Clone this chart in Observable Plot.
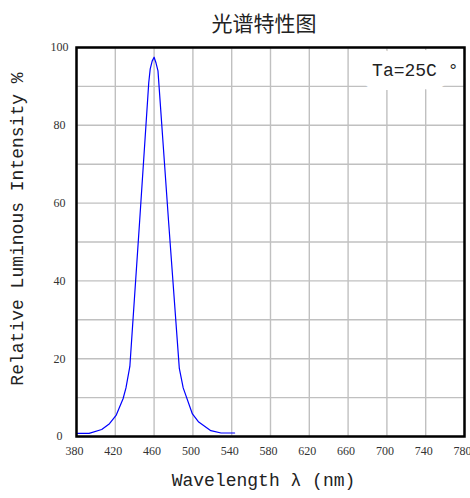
<!DOCTYPE html>
<html><head><meta charset="utf-8">
<script src="https://cdn.jsdelivr.net/npm/d3@7"></script>
<script src="https://cdn.jsdelivr.net/npm/@observablehq/plot@0.6"></script>
<style>
body{margin:0;background:#fff;width:470px;overflow:hidden;}
#title{width:470px;height:40px;box-sizing:border-box;padding-left:58px;text-align:center;font-family:"Noto Sans CJK SC";font-size:21px;line-height:44px;color:#222;}
</style>
</head><body>
<div id="title">光谱特性图</div>
<div id="chart"></div>
<script>
const wavelength = [380, 393, 406, 414, 421, 428, 431, 435, 445, 454.5, 456, 458, 460, 462, 464, 475, 486, 490, 499.5, 506, 518.5, 529, 543];
const intensity  = [0.8, 0.8, 1.8, 3.3, 5.5, 9.7, 12.5, 18, 55, 91, 94.5, 96.5, 97.5, 96, 94, 55, 17.5, 12.5, 5.8, 3.7, 1.5, 0.9, 0.9];
const xTicks = [380, 420, 460, 500, 540, 580, 620, 660, 700, 740, 780];
const yTicks = [0, 20, 40, 60, 80, 100];
const yGrid = [0, 10, 20, 30, 40, 50, 60, 70, 80, 90, 100];
const annotation = ["Ta=25C °"];
const xTitle = ["Wavelength λ (nm)"];
const yTitle = ["Relative Luminous Intensity %"];

const data = wavelength.map((w, i) => ({w, v: intensity[i]}));

const chart = Plot.plot({
  width: 470,
  height: 458,
  marginTop: 7,
  marginBottom: 62,
  marginLeft: 76,
  marginRight: 6,
  x: {domain: [380, 780]},
  y: {domain: [0, 100]},
  style: {background: "#fff"},
  marks: [
    Plot.gridX(xTicks, {stroke: "#c0c0c0", strokeOpacity: 1, strokeWidth: 1.4}),
    Plot.gridY(yGrid, {stroke: "#c0c0c0", strokeOpacity: 1, strokeWidth: 1.4}),
    Plot.line(data, {x: "w", y: "v", stroke: "#0000ff", strokeWidth: 1.2}),
    Plot.text(annotation, {frameAnchor: "top-right", dx: -6, dy: 16, fontSize: 18, fontFamily: "Liberation Mono", fill: "#222", stroke: "white", strokeWidth: 28, textAnchor: "end"}),
    Plot.frame({stroke: "black", strokeWidth: 2.5}),
    Plot.axisX(xTicks, {tickSize: 0, tickPadding: 10, dx: -2, fontSize: 12, fontFamily: "Liberation Serif", fill: "#333", label: null}),
    Plot.axisY(yTicks, {tickSize: 0, tickPadding: 17, textAnchor: "middle", fontSize: 12, fontFamily: "Liberation Serif", fill: "#333", label: null}),
    Plot.text(xTitle, {frameAnchor: "bottom", dx: -7, dy: 49, textAnchor: "middle", fontSize: 18, fontFamily: "Liberation Mono", fill: "#222"}),
    Plot.text(yTitle, {frameAnchor: "left", dx: -59, dy: -13, rotate: -90, textAnchor: "middle", fontSize: 18, fontFamily: "Liberation Mono", fill: "#222"})
  ]
});
document.getElementById("chart").appendChild(chart);
</script>
</body></html>
